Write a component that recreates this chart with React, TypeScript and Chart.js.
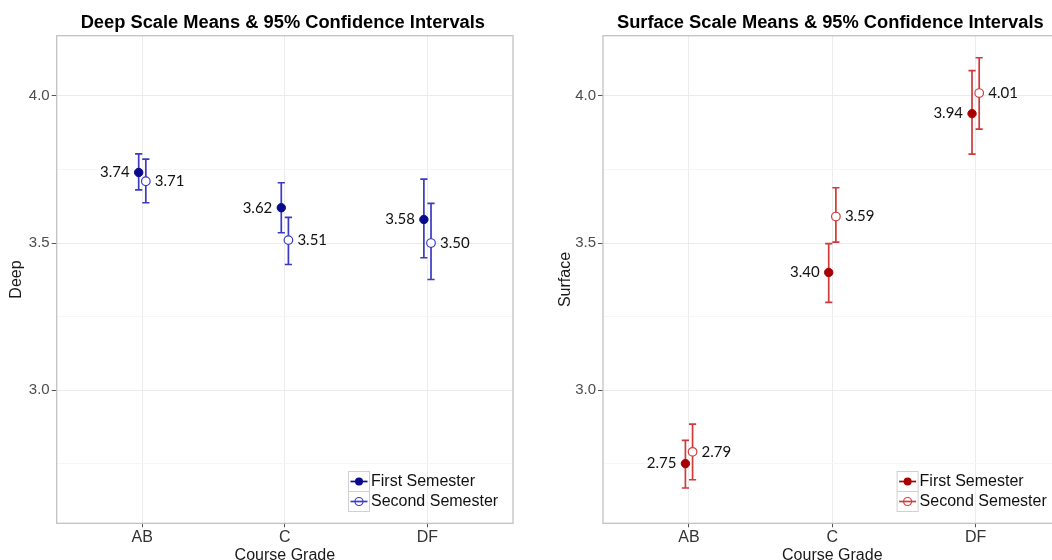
import React, { useEffect, useRef } from "react";
import { Chart, registerables } from "chart.js";

Chart.register(...registerables);

// ---------- data ----------
const categories = ["AB", "C", "DF"];
const seriesNames = ["First Semester", "Second Semester"];
const yMajorTicks = [3.0, 3.5, 4.0];
const yMinorTicks = [2.75, 3.25, 3.75];

const deepFirstMean = [3.74, 3.62, 3.58];
const deepFirstLow = [3.681, 3.535, 3.45];
const deepFirstHigh = [3.803, 3.705, 3.717];
const deepSecondMean = [3.71, 3.51, 3.5];
const deepSecondLow = [3.637, 3.427, 3.376];
const deepSecondHigh = [3.785, 3.587, 3.635];

const surfFirstMean = [2.75, 3.4, 3.94];
const surfFirstLow = [2.667, 3.298, 3.802];
const surfFirstHigh = [2.829, 3.498, 4.086];
const surfSecondMean = [2.79, 3.59, 4.01];
const surfSecondLow = [2.695, 3.503, 3.887];
const surfSecondHigh = [2.884, 3.688, 4.13];

// ---------- layout / style ----------
const Y_MIN = 2.547;
const Y_MAX = 4.205;
const DODGE = 0.025;
const HEIGHT = 560;
const FONT = "'Liberation Sans', Arial, sans-serif";
const LABEL_FONT = "Lato, 'Open Sans', sans-serif";

type Panel = {
  title: string;
  yTitle: string;
  firstMean: number[];
  firstLow: number[];
  firstHigh: number[];
  secondMean: number[];
  secondLow: number[];
  secondHigh: number[];
  firstColor: string;
  secondColor: string;
  barColor: string;
  width: number;
  axisWidth: number;
  padRight: number;
  yTitleX: number;
};

const deepPanel: Panel = {
  title: "Deep Scale Means & 95% Confidence Intervals",
  yTitle: "Deep",
  firstMean: deepFirstMean,
  firstLow: deepFirstLow,
  firstHigh: deepFirstHigh,
  secondMean: deepSecondMean,
  secondLow: deepSecondLow,
  secondHigh: deepSecondHigh,
  firstColor: "#0a0a8c",
  secondColor: "#3c3cc8",
  barColor: "#3b3bc2",
  width: 530,
  axisWidth: 56.7,
  padRight: 17,
  yTitleX: 16.5,
};

const surfPanel: Panel = {
  title: "Surface Scale Means & 95% Confidence Intervals",
  yTitle: "Surface",
  firstMean: surfFirstMean,
  firstLow: surfFirstLow,
  firstHigh: surfFirstHigh,
  secondMean: surfSecondMean,
  secondLow: surfSecondLow,
  secondHigh: surfSecondHigh,
  firstColor: "#a80000",
  secondColor: "#d43c3c",
  barColor: "#cf3a3a",
  width: 542,
  axisWidth: 73,
  padRight: 10.4,
  yTitleX: 35.5,
};

const isMajor = (v: number) => yMajorTicks.some((t) => Math.abs(t - v) < 1e-6);

function panelPlugin(p: Panel) {
  return {
    id: "panelDecor",
    beforeDatasetsDraw(chart: any) {
      const { ctx, chartArea: ca, scales } = chart;
      const xs = scales.x;
      const ys = scales.y;
      // frame
      ctx.save();
      ctx.strokeStyle = "#c2c2c2";
      ctx.lineWidth = 1.3;
      ctx.strokeRect(ca.left, ca.top, ca.right - ca.left, ca.bottom - ca.top);
      // error bars
      const sets = [
        { off: -DODGE, low: p.firstLow, high: p.firstHigh },
        { off: DODGE, low: p.secondLow, high: p.secondHigh },
      ];
      ctx.strokeStyle = p.barColor;
      ctx.lineWidth = 1.7;
      sets.forEach((s) => {
        categories.forEach((_, i) => {
          const px = xs.getPixelForValue(i + 1 + s.off);
          const yl = ys.getPixelForValue(s.low[i]);
          const yh = ys.getPixelForValue(s.high[i]);
          ctx.beginPath();
          ctx.moveTo(px, yh);
          ctx.lineTo(px, yl);
          ctx.moveTo(px - 3.6, yh);
          ctx.lineTo(px + 3.6, yh);
          ctx.moveTo(px - 3.6, yl);
          ctx.lineTo(px + 3.6, yl);
          ctx.stroke();
        });
      });
      ctx.restore();
    },
    afterDatasetsDraw(chart: any) {
      const { ctx, chartArea: ca, scales } = chart;
      const xs = scales.x;
      const ys = scales.y;
      ctx.save();
      // value labels
      ctx.font = `15px ${LABEL_FONT}`;
      ctx.fillStyle = "#111";
      ctx.textBaseline = "middle";
      categories.forEach((_, i) => {
        const x1 = xs.getPixelForValue(i + 1 - DODGE);
        const y1 = ys.getPixelForValue(p.firstMean[i]);
        ctx.textAlign = "right";
        ctx.fillText(p.firstMean[i].toFixed(2), x1 - 9, y1);
        const x2 = xs.getPixelForValue(i + 1 + DODGE);
        const y2 = ys.getPixelForValue(p.secondMean[i]);
        ctx.textAlign = "left";
        ctx.fillText(p.secondMean[i].toFixed(2), x2 + 9, y2);
      });

      // legend
      const keyX = ca.right - 165;
      const keyY = ca.bottom - 52.3;
      seriesNames.forEach((name, i) => {
        const ky = keyY + i * 20;
        ctx.fillStyle = "#ffffff";
        ctx.fillRect(keyX, ky, 21, 20);
        ctx.strokeStyle = "#d0d0d0";
        ctx.lineWidth = 1;
        ctx.strokeRect(keyX + 0.5, ky + 0.5, 21, 20);
        const col = i === 0 ? p.firstColor : p.secondColor;
        const cy = ky + 10.5;
        const cx = keyX + 11;
        ctx.strokeStyle = col;
        ctx.lineWidth = 1.7;
        ctx.beginPath();
        ctx.moveTo(keyX + 2.5, cy);
        ctx.lineTo(keyX + 19.5, cy);
        ctx.stroke();
        ctx.beginPath();
        ctx.arc(cx, cy, 4, 0, Math.PI * 2);
        if (i === 0) {
          ctx.fillStyle = col;
          ctx.fill();
        } else {
          ctx.lineWidth = 1.2;
          ctx.stroke();
        }
        ctx.fillStyle = "#111";
        ctx.font = `16px ${FONT}`;
        ctx.textAlign = "left";
        ctx.textBaseline = "middle";
        ctx.fillText(name, keyX + 23, cy);
      });

      // chart title
      ctx.fillStyle = "#000";
      ctx.font = `bold 18.3px ${FONT}`;
      ctx.textAlign = "center";
      ctx.textBaseline = "alphabetic";
      ctx.fillText(p.title, (ca.left + ca.right) / 2 - 2, 27.5);

      // x axis title
      ctx.fillStyle = "#1a1a1a";
      ctx.font = `16px ${FONT}`;
      ctx.fillText("Course Grade", (ca.left + ca.right) / 2, 559.5);

      // y axis title
      ctx.save();
      ctx.translate(p.yTitleX, (ca.top + ca.bottom) / 2);
      ctx.rotate(-Math.PI / 2);
      ctx.textAlign = "center";
      ctx.textBaseline = "middle";
      ctx.fillText(p.yTitle, 0, 0);
      ctx.restore();
      ctx.restore();
    },
  };
}

function makeConfig(p: Panel): any {
  const firstData = p.firstMean.map((v, i) => ({ x: i + 1 - DODGE, y: v }));
  const secondData = p.secondMean.map((v, i) => ({ x: i + 1 + DODGE, y: v }));
  return {
    type: "scatter",
    data: {
      datasets: [
        {
          label: seriesNames[0],
          data: firstData,
          pointRadius: 4.2,
          pointBackgroundColor: p.firstColor,
          pointBorderColor: p.firstColor,
          pointBorderWidth: 1,
        },
        {
          label: seriesNames[1],
          data: secondData,
          pointRadius: 4.3,
          pointBackgroundColor: "#ffffff",
          pointBorderColor: p.secondColor,
          pointBorderWidth: 1.2,
        },
      ],
    },
    options: {
      animation: false,
      responsive: false,
      maintainAspectRatio: false,
      events: [],
      layout: { padding: { left: 0, right: p.padRight, top: 35.7, bottom: 0 } },
      plugins: {
        legend: { display: false },
        tooltip: { enabled: false },
        title: { display: false },
      },
      scales: {
        x: {
          type: "linear",
          min: 0.4,
          max: 3.6,
          afterBuildTicks: (s: any) => {
            s.ticks = categories.map((_, i) => ({ value: i + 1 }));
          },
          afterFit: (s: any) => {
            s.height = HEIGHT - 523.3;
          },
          ticks: {
            autoSkip: false,
            maxRotation: 0,
            padding: 1,
            color: "#333333",
            font: { family: FONT, size: 16 },
            callback: (v: number) => categories[Math.round(v) - 1] ?? "",
          },
          grid: {
            color: "#ececec",
            lineWidth: 1,
            tickColor: "#555555",
            tickLength: 4,
          },
          border: { display: false },
        },
        y: {
          type: "linear",
          min: Y_MIN,
          max: Y_MAX,
          afterBuildTicks: (s: any) => {
            s.ticks = [...yMinorTicks, ...yMajorTicks]
              .sort((a, b) => a - b)
              .map((v) => ({ value: v }));
          },
          afterFit: (s: any) => {
            s.width = p.axisWidth;
          },
          ticks: {
            autoSkip: false,
            padding: 2,
            color: "#4d4d4d",
            font: { family: FONT, size: 15 },
            callback: (v: number) => (isMajor(v) ? v.toFixed(1) : ""),
          },
          grid: {
            color: (c: any) => (isMajor(c.tick.value) ? "#ebebeb" : "#f6f6f6"),
            lineWidth: 1,
            tickColor: (c: any) => (isMajor(c.tick.value) ? "#555555" : "rgba(0,0,0,0)"),
            tickLength: 5,
          },
          border: { display: false },
        },
      },
    },
    plugins: [panelPlugin(p)],
  };
}

function PanelChart({ panel, left }: { panel: Panel; left: number }) {
  const ref = useRef<HTMLCanvasElement | null>(null);
  useEffect(() => {
    if (!ref.current) return;
    const chart = new Chart(ref.current, makeConfig(panel));
    return () => chart.destroy();
  }, [panel]);
  return (
    <canvas
      ref={ref}
      width={panel.width}
      height={HEIGHT}
      style={{
        position: "absolute",
        left,
        top: 0,
        width: panel.width,
        height: HEIGHT,
        display: "block",
      }}
    />
  );
}

export default function App() {
  return (
    <div
      style={{
        position: "fixed",
        left: 0,
        top: 0,
        width: 1052,
        height: HEIGHT,
        overflow: "hidden",
        background: "#ffffff",
      }}
    >
      <PanelChart panel={deepPanel} left={0} />
      <PanelChart panel={surfPanel} left={530} />
    </div>
  );
}
